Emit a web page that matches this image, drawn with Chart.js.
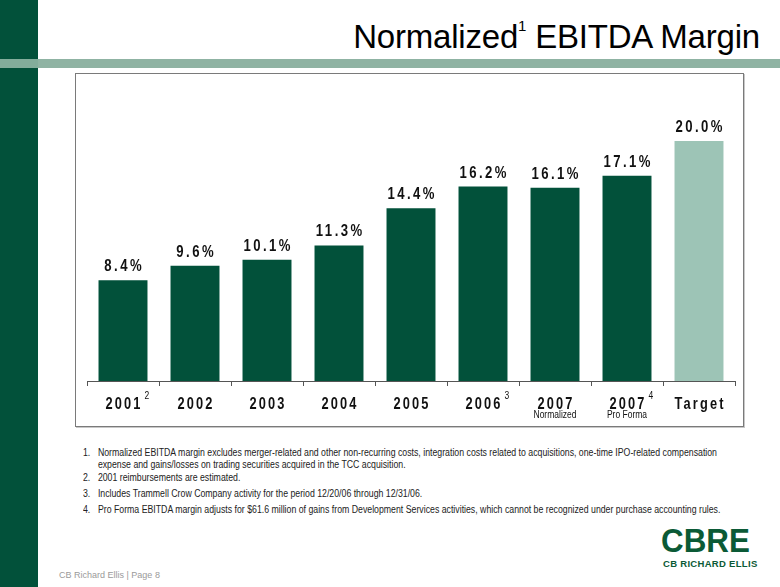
<!DOCTYPE html>
<html>
<head>
<meta charset="utf-8">
<script src="https://cdn.jsdelivr.net/npm/chart.js@4.4.0/dist/chart.umd.min.js"></script>
<style>
  html, body { margin:0; padding:0; width:780px; height:587px; overflow:hidden; background:#fff; font-family:"Liberation Sans", Arial, sans-serif; }
  #side1 { position:absolute; left:0; top:0; width:38px; height:59px; background:#02513a; }
  #side2 { position:absolute; left:0; top:68px; width:38px; height:519px; background:#02513a; }
  #stripeSide { position:absolute; left:0; top:59px; width:38px; height:9px; background:#83ad9b; }
  #stripe { position:absolute; left:38px; top:59px; width:742px; height:9px; background:#8fb3a3; }
  #title { position:absolute; right:20px; top:18px; font-size:33px; color:#000; white-space:nowrap; letter-spacing:-0.2px; }
  #title sup { font-size:15px; vertical-align:top; position:relative; top:-1px; }
  #box { position:absolute; left:75px; top:73px; width:667px; height:352px; border:1px solid #7a7a7a; box-shadow:1px 1px 0 #c8c8c8; }
  #chartWrap { position:absolute; left:76px; top:74px; width:667px; height:351px; }
  #notes { position:absolute; left:83px; top:447px; width:760px; font-size:10px; color:#222; transform:scaleX(0.875); transform-origin:0 0; }
  .n { position:relative; padding-left:17px; line-height:11.5px; white-space:nowrap; }
  .n span { position:absolute; left:0; top:0; }
  #n1 { margin-bottom:2px; } #n2 { margin-bottom:4px; } #n3 { margin-bottom:5px; }
  #logo { position:absolute; left:661px; top:522px; font-weight:bold; font-size:33px; color:#0b5a36; transform:scaleX(0.95); transform-origin:0 0; }
  #logosub { position:absolute; left:663px; top:558px; font-weight:bold; font-size:9.5px; color:#0b5a36; white-space:nowrap; letter-spacing:0.3px; }
  #footer { position:absolute; left:59px; top:570px; font-size:9px; color:#9a9a9a; white-space:nowrap; }
</style>
</head>
<body>
<div id="side1"></div><div id="stripeSide"></div><div id="side2"></div>
<div id="stripe"></div>
<div id="title">Normalized<sup>1</sup> EBITDA Margin</div>
<div id="box"></div>
<div id="chartWrap"><canvas id="c" width="667" height="351"></canvas></div>
<div id="notes">
  <div class="n" id="n1"><span>1.</span>Normalized EBITDA margin excludes merger-related and other non-recurring costs, integration costs related to acquisitions, one-time IPO-related compensation<br>expense and gains/losses on trading securities acquired in the TCC acquisition.</div>
  <div class="n" id="n2"><span>2.</span>2001 reimbursements are estimated.</div>
  <div class="n" id="n3"><span>3.</span>Includes Trammell Crow Company activity for the period 12/20/06 through 12/31/06.</div>
  <div class="n" id="n4"><span>4.</span>Pro Forma EBITDA margin adjusts for $61.6 million of gains from Development Services activities, which cannot be recognized under purchase accounting rules.</div>
</div>
<div id="logo">CBRE</div>
<div id="logosub">CB RICHARD ELLIS</div>
<div id="footer">CB Richard Ellis | Page 8</div>
<script>
const categories = ["2001", "2002", "2003", "2004", "2005", "2006", "2007", "2007", "Target"];
const superscripts = ["2", "", "", "", "", "3", "", "4", ""];
const subLabels = ["", "", "", "", "", "", "Normalized", "Pro Forma", ""];
const marginValues = [8.4, 9.6, 10.1, 11.3, 14.4, 16.2, 16.1, 17.1, 20.0];
const valueLabels = ["8.4%", "9.6%", "10.1%", "11.3%", "14.4%", "16.2%", "16.1%", "17.1%", "20.0%"];
const barColors = ["#02513a","#02513a","#02513a","#02513a","#02513a","#02513a","#02513a","#02513a","#9dc4b6"];

const fam = '"Liberation Sans", Arial, sans-serif';

function narrowText(ctx, text, x, y, font, spacing, sx, align) {
  ctx.save();
  ctx.font = font;
  ctx.letterSpacing = spacing + 'px';
  ctx.textAlign = 'left';
  const w = (ctx.measureText(text).width - spacing) * sx;
  let left = x;
  if (align === 'center') left = x - w / 2;
  ctx.translate(left, y);
  ctx.scale(sx, 1);
  ctx.fillText(text, 0, 0);
  ctx.restore();
  return w;
}

const decor = {
  id: 'decor',
  afterDatasetsDraw(chart) {
    const ctx = chart.ctx;
    const xs = chart.scales.x, ys = chart.scales.y;
    const area = chart.chartArea;
    const meta = chart.getDatasetMeta(0);
    const y0 = ys.getPixelForValue(0);
    ctx.save();
    ctx.strokeStyle = '#555';
    ctx.lineWidth = 1;
    ctx.beginPath();
    ctx.moveTo(area.left, Math.round(y0) + 0.5);
    ctx.lineTo(area.right, Math.round(y0) + 0.5);
    ctx.stroke();
    const n = categories.length;
    const step = (xs.getPixelForValue(1) - xs.getPixelForValue(0));
    for (let i = 0; i <= n; i++) {
      const x = Math.round(xs.getPixelForValue(0) - step / 2 + i * step) + 0.5;
      ctx.beginPath();
      ctx.moveTo(x, Math.round(y0));
      ctx.lineTo(x, Math.round(y0) + 5);
      ctx.stroke();
    }
    ctx.fillStyle = '#111';
    ctx.textBaseline = 'alphabetic';
    meta.data.forEach((bar, i) => {
      narrowText(ctx, valueLabels[i], bar.x, bar.y - 9, 'bold 16px ' + fam, 3, 0.82, 'center');
    });
    meta.data.forEach((bar, i) => {
      const x = xs.getPixelForValue(i);
      const w = narrowText(ctx, categories[i], x, y0 + 28, 'bold 16px ' + fam, 2.7, 0.8, 'center');
      if (superscripts[i]) {
        narrowText(ctx, superscripts[i], x + w / 2 + 4, y0 + 18, '10px ' + fam, 0, 0.85, 'left');
      }
      if (subLabels[i]) {
        narrowText(ctx, subLabels[i], x, y0 + 37, '10px ' + fam, 0, 0.85, 'center');
      }
    });
    ctx.restore();
  }
};

new Chart(document.getElementById('c'), {
  type: 'bar',
  data: {
    labels: categories.map((c, i) => c + (subLabels[i] ? ' ' + subLabels[i] : '')),
    datasets: [{
      data: marginValues,
      backgroundColor: barColors,
      borderWidth: 0,
      categoryPercentage: 1,
      barPercentage: 0.68
    }]
  },
  options: {
    responsive: false,
    animation: false,
    layout: { padding: { left: 11, right: 8, top: 19, bottom: 44 } },
    plugins: { legend: { display: false }, tooltip: { enabled: false } },
    scales: {
      x: { display: false },
      y: { display: false, min: 0, max: 24 }
    }
  },
  plugins: [decor]
});
</script>
</body>
</html>
